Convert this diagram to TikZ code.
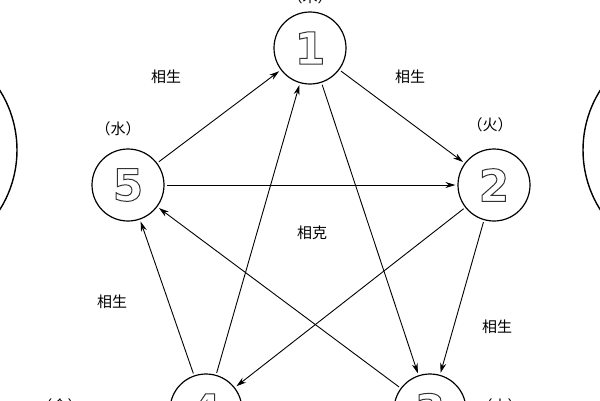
\documentclass[tikz,border=0pt]{standalone}
\usepackage{fontspec}
\usetikzlibrary{arrows.meta}
\newfontfamily\cjk{Noto Sans CJK SC}
\newfontfamily\dig{DejaVu Sans}
\newcommand{\outl}[1]{\special{pdf:code q 1 Tr 1 w 0.2 G}#1\special{pdf:code Q}}
\begin{document}
\begin{tikzpicture}[x=1pt,y=-1pt,
  el/.style={circle,draw,line width=1.2pt,minimum size=72pt,inner sep=0pt,font=\dig\fontsize{44}{44}\selectfont\bfseries},
  lab/.style={font=\cjk\fontsize{15}{15}\selectfont},
  arr/.style={-{Stealth[length=10pt,width=6pt]},line width=0.9pt,shorten >=2pt,shorten <=2pt}]
\useasboundingbox (0,0) rectangle (600,400);
\clip (0,0) rectangle (600,400);
\node[el] (n1) at (310,48) {\outl{1}};
\node[el] (n2) at (494,185) {\outl{2}};
\node[el] (n3) at (430,410) {\outl{3}};
\node[el] (n4) at (206,410) {\outl{4}};
\node[el] (n5) at (128,185) {\outl{5}};
\draw[line width=1.4pt] (-95,150) circle (112);
\draw[line width=1.4pt] (695,150) circle (112);
\draw[arr] (n5) -- (n1);
\draw[arr] (n1) -- (n2);
\draw[arr] (n2) -- (n3);
\draw[arr] (n4) -- (n5);
\draw[arr] (n5) -- (n2);
\draw[arr] (n2) -- (n4);
\draw[arr] (n4) -- (n1);
\draw[arr] (n1) -- (n3);
\draw[arr] (n3) -- (n5);
\node[lab] (t0) at (310,-3) {（木）};
\node[lab] (t1) at (166,77) {相生};
\node[lab] (t2) at (410,77) {相生};
\node[lab] (t3) at (118,129) {（水）};
\node[lab] (t4) at (490,125) {（火）};
\node[lab] (t5) at (312,233) {相克};
\node[lab] (t6) at (112,302) {相生};
\node[lab] (t7) at (497,327) {相生};
\node[lab] (t8) at (60,406) {（金）};
\node[lab] (t9) at (500,406) {（土）};
\end{tikzpicture}
\end{document}
